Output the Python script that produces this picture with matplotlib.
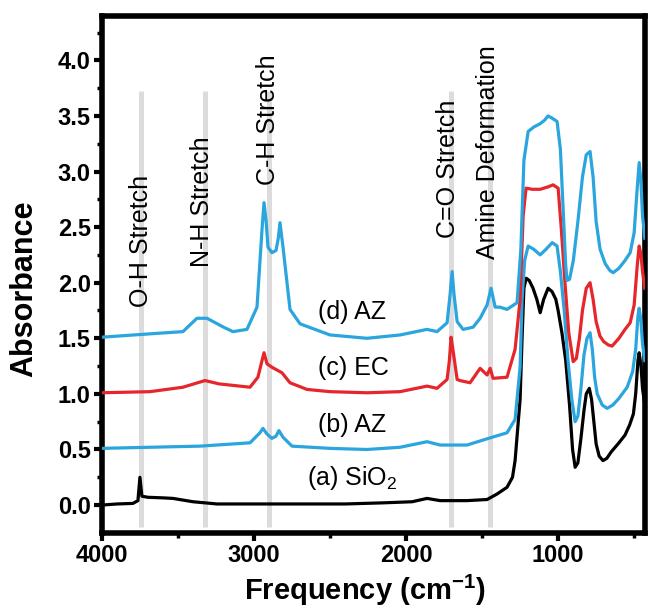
import numpy as np
import matplotlib
matplotlib.use("Agg")
import matplotlib.pyplot as plt

plt.rcParams['font.family'] = ['Liberation Sans', 'DejaVu Sans']
plt.rcParams['mathtext.fontset'] = 'custom'
plt.rcParams['mathtext.rm'] = 'Liberation Sans'
plt.rcParams['mathtext.bf'] = 'Liberation Sans:bold'

# (a) SiO2
wa = [4000, 3900, 3796, 3763, 3750, 3737, 3697, 3600, 3533, 3401, 3243, 3000, 2697, 2400, 2151,
      1960, 1862, 1776, 1600, 1467, 1401, 1336, 1300, 1283, 1265, 1250, 1237, 1225, 1210, 1190,
      1165, 1140, 1118, 1095, 1066, 1040, 1015, 1000, 975, 950, 925, 905, 888, 870, 850, 830,
      815, 795, 780, 765, 750, 730, 705, 680, 650, 600, 560, 530, 505, 490, 475, 467, 455, 445, 430]
Aa = [0.0, 0.01, 0.015, 0.04, 0.25, 0.08, 0.07, 0.065, 0.06, 0.03, 0.01, 0.01, 0.01, 0.01, 0.02,
      0.03, 0.06, 0.04, 0.04, 0.05, 0.10, 0.16, 0.25, 0.40, 0.70, 0.95, 1.50, 1.95, 2.04, 2.02,
      1.95, 1.85, 1.73, 1.85, 1.95, 1.92, 1.85, 1.75, 1.55, 1.30, 0.90, 0.50, 0.34, 0.38, 0.60, 0.85,
      1.00, 1.05, 0.95, 0.75, 0.55, 0.44, 0.40, 0.42, 0.48, 0.56, 0.63, 0.72, 0.82, 1.00, 1.30, 1.37, 1.25, 1.05, 0.90]

# (b) AZ
wb = [4000, 3684, 3355, 3026, 2961, 2941, 2915, 2882, 2855, 2836, 2809, 2750, 2500, 2257, 2039,
      1862, 1776, 1599, 1434, 1336, 1283, 1250, 1237, 1220, 1197, 1160, 1118, 1080, 1039, 1007,
      985, 960, 935, 910, 888, 870, 850, 830, 810, 790, 775, 760, 743, 710, 678, 640, 600, 546,
      510, 490, 475, 467, 455, 445, 430]
Ab = [0.51, 0.52, 0.53, 0.56, 0.65, 0.69, 0.64, 0.60, 0.62, 0.67, 0.61, 0.53, 0.51, 0.50, 0.52,
      0.57, 0.54, 0.54, 0.61, 0.65, 0.77, 1.24, 1.85, 2.20, 2.33, 2.30, 2.25, 2.30, 2.36, 2.33,
      2.10, 1.75, 1.30, 0.95, 0.75, 0.80, 1.05, 1.35, 1.50, 1.55, 1.40, 1.15, 1.00, 0.90, 0.87, 0.90, 0.96, 1.06,
      1.20, 1.40, 1.70, 1.77, 1.65, 1.45, 1.30]

# (c) EC
wc = [4000, 3684, 3467, 3322, 3230, 3026, 2974, 2947, 2934, 2914, 2882, 2816, 2763, 2651, 2500,
      2257, 2039, 1862, 1796, 1730, 1715, 1704, 1690, 1664, 1645, 1579, 1513, 1467, 1447, 1428,
      1336, 1283, 1250, 1230, 1211, 1170, 1118, 1070, 1033, 1000, 980, 955, 930, 901, 880, 860,
      840, 815, 790, 770, 750, 725, 700, 670, 645, 600, 560, 526, 500, 480, 467, 455, 445, 430]
Ac = [1.01, 1.02, 1.06, 1.12, 1.09, 1.06, 1.15, 1.30, 1.37, 1.27, 1.24, 1.19, 1.10, 1.04, 1.02,
      1.01, 1.02, 1.07, 1.05, 1.13, 1.30, 1.51, 1.38, 1.13, 1.12, 1.10, 1.23, 1.17, 1.23, 1.14,
      1.15, 1.40, 1.85, 2.60, 2.85, 2.84, 2.84, 2.86, 2.88, 2.85, 2.50, 2.00, 1.55, 1.29, 1.32, 1.50,
      1.75, 1.95, 2.00, 1.85, 1.65, 1.52, 1.47, 1.44, 1.43, 1.50, 1.58, 1.64, 1.80, 2.15, 2.33, 2.25, 2.10, 1.95]

# (d) AZ
wd = [4000, 3684, 3467, 3375, 3309, 3200, 3138, 3046, 2980, 2947, 2934, 2920, 2908, 2882, 2855,
      2840, 2829, 2809, 2763, 2697, 2500, 2257, 2039, 1862, 1796, 1730, 1710, 1697, 1685, 1664,
      1625, 1559, 1513, 1467, 1441, 1414, 1382, 1336, 1270, 1245, 1225, 1197, 1160, 1118, 1090,
      1066, 1040, 1007, 985, 965, 950, 941, 925, 900, 870, 840, 815, 790, 770, 750, 724, 690,
      660, 638, 600, 560, 526, 500, 480, 467, 455, 445, 430]
Ad = [1.51, 1.54, 1.56, 1.68, 1.68, 1.60, 1.56, 1.58, 1.78, 2.48, 2.72, 2.55, 2.32, 2.27, 2.29,
      2.40, 2.54, 2.32, 1.76, 1.63, 1.53, 1.50, 1.53, 1.58, 1.56, 1.64, 1.90, 2.10, 1.90, 1.65,
      1.58, 1.60, 1.68, 1.80, 1.95, 1.78, 1.78, 1.76, 1.82, 2.30, 3.10, 3.36, 3.40, 3.43, 3.46,
      3.50, 3.48, 3.45, 3.20, 2.60, 2.15, 2.02, 2.03, 2.20, 2.55, 2.95, 3.15, 3.18, 2.95, 2.55, 2.30, 2.17,
      2.11, 2.09, 2.13, 2.20, 2.27, 2.45, 2.85, 3.08, 2.90, 2.60, 2.40]

bands = [3740, 3320, 2900, 1705, 1445]
band_labels = ['O-H Stretch', 'N-H Stretch', 'C-H Stretch', 'C=O Stretch', 'Amine Deformation']
band_label_x = [3745, 3345, 2908, 1724, 1461]
band_label_y = [2.38, 2.73, 3.47, 3.02, 3.17]

curve_labels = ['(a) SiO$_2$', '(b) AZ', '(c) EC', '(d) AZ']
curve_label_x = [2651, 2579, 2579, 2579]
curve_label_y = [0.24, 0.72, 1.23, 1.74]

blue = '#2aa5dd'
red = '#e6262b'

fig = plt.figure(figsize=(6.49, 6.09), dpi=100)
ax = fig.add_axes([0.157, 0.125, 0.837, 0.849])

for b in bands:
    ax.plot([b, b], [-0.2, 3.72], color='#dcdcdc', lw=3.6, zorder=1, solid_capstyle='butt')

ax.plot(wa, Aa, color='black', lw=2.3, zorder=3)
ax.plot(wb, Ab, color=blue, lw=2.3, zorder=3)
ax.plot(wc, Ac, color=red, lw=2.3, zorder=3)
ax.plot(wd, Ad, color=blue, lw=2.3, zorder=3)

for t, x, y in zip(band_labels, band_label_x, band_label_y):
    ax.text(x, y, t, rotation=90, ha='center', va='center', fontsize=18, zorder=4)

for t, x, y in zip(curve_labels, curve_label_x, curve_label_y):
    ax.text(x, y, t, ha='left', va='center', fontsize=18, zorder=4)

ax.set_xlim(4000, 428)
ax.set_ylim(-0.25, 4.4)
ax.set_xticks([4000, 3000, 2000, 1000])
ax.set_xticks([3500, 2500, 1500, 500], minor=True)
ax.set_yticks(np.arange(0, 4.01, 0.5))
ax.set_yticks(np.arange(0.25, 4.3, 0.5), minor=True)
ax.set_yticklabels(['%.1f' % v for v in np.arange(0, 4.01, 0.5)])
ax.tick_params(which='major', direction='out', length=6, width=3, labelsize=17, pad=2)
ax.tick_params(which='minor', direction='out', length=3.5, width=2.5)
for lab in ax.get_xticklabels() + ax.get_yticklabels():
    lab.set_fontweight('bold')
for s in ax.spines.values():
    s.set_linewidth(4)

ax.set_xlabel('Frequency (cm$^{\\mathbf{-1}}$)', fontsize=21, fontweight='bold')
ax.set_ylabel('Absorbance', fontsize=22, fontweight='bold')
ax.xaxis.set_label_coords(0.484, -0.078)
ax.yaxis.set_label_coords(-0.115, 0.472)

plt.savefig('out.png', dpi=100)
